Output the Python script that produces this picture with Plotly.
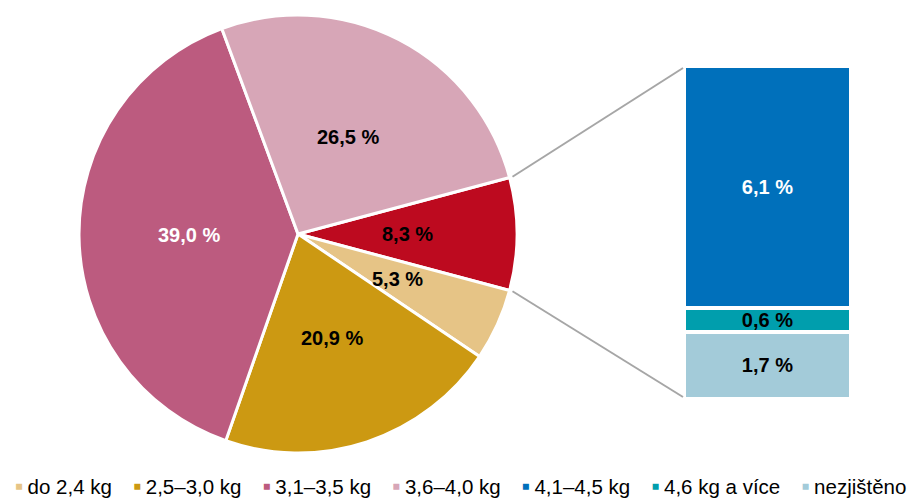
import math
import plotly.graph_objs as go

# pie: the last three weight groups are merged into one slice
pie_labels = ['4,1 kg a více + nezjištěno', 'do 2,4 kg', '2,5–3,0 kg', '3,1–3,5 kg', '3,6–4,0 kg']
pie_values = [8.3, 5.3, 20.9, 39.0, 26.5]
pie_colors = ['#BD0A1F', '#E6C486', '#CC9912', '#BC5B7F', '#D7A6B7']
pie_text_colors = ['black', 'black', 'black', 'white', 'black']

# bar: breakdown of the merged slice (bottom to top)
bar_labels = ['nezjištěno', '4,6 kg a více', '4,1–4,5 kg']
bar_values = [1.7, 0.6, 6.1]
bar_colors = ['#A3CBD9', '#009EAD', '#0070BB']
bar_text_colors = ['black', 'black', 'white']

legend_labels = ['do 2,4 kg', '2,5–3,0 kg', '3,1–3,5 kg', '3,6–4,0 kg',
                 '4,1–4,5 kg', '4,6 kg a více', 'nezjištěno']
legend_colors = ['#E6C486', '#CC9912', '#BC5B7F', '#D7A6B7',
                 '#0070BB', '#009EAD', '#A3CBD9']

# the page body has an 8px margin, so the figure starts at (8, 8)
OFF = 8
W, H = 916 - OFF, 498 - OFF
FONT = 'Liberation Sans, Arial, sans-serif'

def fmt(v):
    return f'{v:.1f} %'.replace('.', ',')

def px(x):
    return (x - OFF) / W

def py(y):
    return 1 - (y - OFF) / H

# pie geometry (screen pixels)
cx, cy, r = 298, 234, 219
rotation = 90 - 360 * pie_values[0] / sum(pie_values) / 2

# bar geometry (screen pixels)
bx0, bx1, by0, by1 = 684, 851, 66, 399
lw = 4

fig = go.Figure()
fig.add_trace(go.Pie(labels=pie_labels, values=pie_values, sort=False,
                     direction='clockwise', rotation=rotation,
                     marker=dict(colors=pie_colors, line=dict(color='white', width=3)),
                     textinfo='none', hoverinfo='label+percent',
                     domain=dict(x=[px(cx - r), px(cx + r)], y=[py(cy + r), py(cy - r)]),
                     showlegend=False))

for lab, val, col, tc in zip(bar_labels, bar_values, bar_colors, bar_text_colors):
    fig.add_trace(go.Bar(x=[0], y=[val], name=lab, width=1,
                         marker=dict(color=col, line=dict(color='white', width=lw)),
                         text=['<b>' + fmt(val) + '</b>'], textposition='inside', textangle=0,
                         insidetextanchor='middle', constraintext='none',
                         insidetextfont=dict(color=tc, size=20, family=FONT),
                         showlegend=False))

annotations = []
# pie labels at half radius on each slice's mid angle
start = rotation
total = sum(pie_values)
for val, tc in zip(pie_values, pie_text_colors):
    span = 360 * val / total
    mid = math.radians(start + span / 2)
    start += span
    lx = cx + 0.5 * r * math.sin(mid)
    ly = cy - 0.5 * r * math.cos(mid)
    annotations.append(dict(x=px(lx), y=py(ly), xref='paper', yref='paper',
                            xanchor='center', yanchor='middle',
                            text='<b>' + fmt(val) + '</b>', showarrow=False,
                            font=dict(size=20, color=tc, family=FONT)))

# legend as one line of text
items = [f"<span style='color:{c};font-size:24px'>▪</span>\u2009{l}"
         for l, c in zip(legend_labels, legend_colors)]
annotations.append(dict(x=px(460), y=py(501), xref='paper', yref='paper',
                        xanchor='center', yanchor='bottom',
                        text='&nbsp;&nbsp;&nbsp;\u2009'.join(items), showarrow=False,
                        font=dict(size=20.5, color='black', family=FONT)))

# connector lines from the merged slice edges to the bar corners
shapes = []
a0 = math.radians(rotation)
a1 = math.radians(rotation + 360 * pie_values[0] / total)
for a, by in [(a0, by0 + 2), (a1, by1 - 2)]:
    sx = cx + (r + 3) * math.sin(a)
    sy = cy - (r + 3) * math.cos(a)
    shapes.append(dict(type='line', xref='paper', yref='paper',
                       x0=px(sx), y0=py(sy), x1=px(bx0 - 1), y1=py(by),
                       line=dict(color='#A6A6A6', width=2)))

fig.update_layout(
    width=W, height=H, barmode='stack',
    margin=dict(l=0, r=0, t=0, b=0),
    paper_bgcolor='white', plot_bgcolor='white',
    font=dict(family=FONT, size=20, color='black'),
    xaxis=dict(domain=[px(bx0), px(bx1)], range=[-0.5, 0.5], visible=False, fixedrange=True),
    yaxis=dict(domain=[py(by1), py(by0)], range=[0, sum(bar_values)], visible=False, fixedrange=True),
    annotations=annotations, shapes=shapes,
)

fig.write_html('out.html')
